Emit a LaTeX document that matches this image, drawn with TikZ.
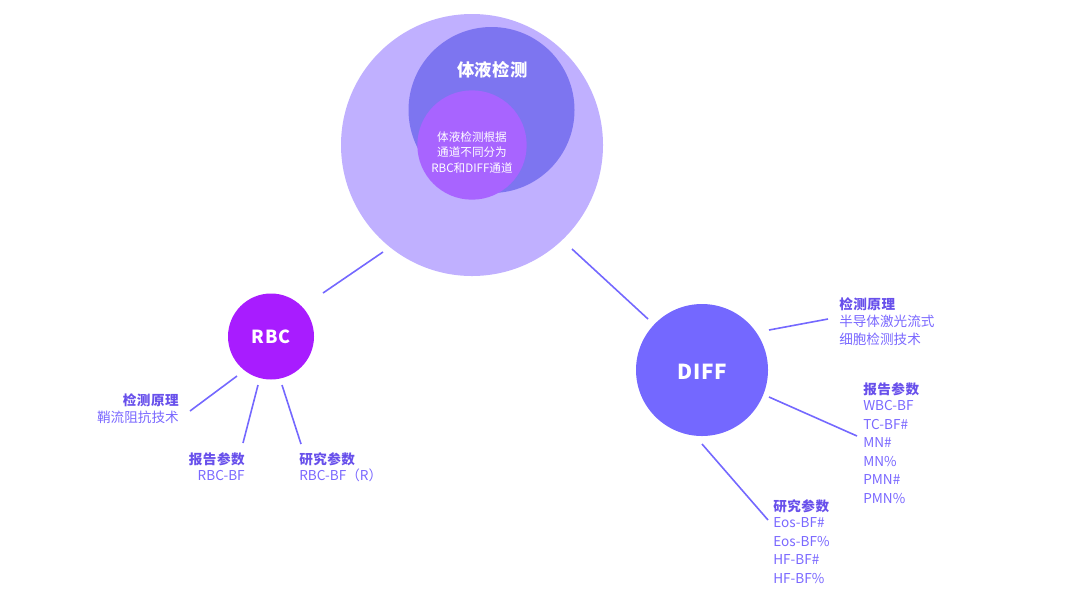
\documentclass[tikz,border=0pt]{standalone}
\usepackage{fontspec}
\setmainfont{Noto Sans CJK SC}
\usepackage{xcolor}
\definecolor{bigViolet}{RGB}{192, 176, 255}
\definecolor{midBlue}{RGB}{125, 117, 240}
\definecolor{coreViolet}{RGB}{168, 100, 255}
\definecolor{rbcViolet}{RGB}{168, 28, 255}
\definecolor{diffBlue}{RGB}{116, 104, 255}
\definecolor{headColor}{RGB}{104, 80, 235}
\definecolor{bodyColor}{RGB}{122, 104, 255}
\tikzset{
    disc/.style={circle, inner sep=0pt, outer sep=0pt},
    link/.style={draw=diffBlue, line width=1.2pt},
    infotext/.style={text=bodyColor, inner sep=0pt, font=\fontsize{10.2}{13.9}\selectfont}
}
\newcommand{\headline}[1]{{\color{headColor}\bfseries\addfontfeature{LetterSpace=3.5}#1}\\[-1.5pt]}
\begin{document}
\begin{tikzpicture}[x=0.75pt, y=-0.75pt]
    \useasboundingbox (0,0) rectangle (1080,608);

    % Draw the three stacked circles on top
    \node[disc, fill=bigViolet, minimum size=196.5pt] (big) at (472,145) {};
    \node[disc, fill=midBlue, minimum size=124.5pt] (mid) at (491.5,110) {};
    \node[disc, fill=coreViolet, minimum size=82pt] (core) at (472,145) {};
    \node[text=white, inner sep=0pt, font=\fontsize{13}{16}\selectfont\bfseries\addfontfeature{LetterSpace=2.5}] (title) at (492.5,69.5) {体液检测};
    \node[text=white, inner sep=0pt, align=center, font=\fontsize{8.7}{11.8}\selectfont] (coretext) at (472,152.5) {体液检测根据\\通道不同分为\\RBC和DIFF通道};

    % Draw the two channel circles
    \node[disc, fill=rbcViolet, minimum size=64.5pt, text=white, font=\fontsize{13.5}{16}\selectfont\bfseries\addfontfeature{LetterSpace=6}] (rbc) at (271,336.5) {RBC};
    \node[disc, fill=diffBlue, minimum size=99pt, text=white, text height=14.5pt, text depth=0pt, font=\fontsize{15.5}{18}\selectfont\bfseries\addfontfeature{LetterSpace=4}] (diff) at (702,370) {DIFF};

    % Free ends of the connectors
    \coordinate (bigA) at (383,252);
    \coordinate (bigB) at (572,249);
    \coordinate (rbcTop) at (323,293);
    \coordinate (diffTop) at (648,319);
    \coordinate (rbcA) at (237,376);
    \coordinate (rbcB) at (258,385);
    \coordinate (rbcC) at (282,385);
    \coordinate (rbcAend) at (190,411);
    \coordinate (rbcBend) at (243,443);
    \coordinate (rbcCend) at (301,444);
    \coordinate (diffA) at (769,330);
    \coordinate (diffB) at (769,397);
    \coordinate (diffC) at (702,444);
    \coordinate (diffAend) at (828,319);
    \coordinate (diffBend) at (857,436);
    \coordinate (diffCend) at (768,520);

    % Connectors
    \draw[link] (bigA) -- (rbcTop);
    \draw[link] (bigB) -- (diffTop);
    \draw[link] (rbcA) -- (rbcAend);
    \draw[link] (rbcB) -- (rbcBend);
    \draw[link] (rbcC) -- (rbcCend);
    \draw[link] (diffA) -- (diffAend);
    \draw[link] (diffB) -- (diffBend);
    \draw[link] (diffC) -- (diffCend);

    % Labels of RBC
    \node[infotext, anchor=north east, align=right] (rbcAtext) at (179,393.5) {\headline{检测原理}鞘流阻抗技术};
    \node[infotext, anchor=north east, align=right] (rbcBtext) at (245,452) {\headline{报告参数}RBC-BF};
    \node[infotext, anchor=north west, align=left] (rbcCtext) at (299,452) {\headline{研究参数}RBC-BF（R）};

    % Labels of DIFF
    \node[infotext, anchor=north west, align=left] (diffAtext) at (839,297.5) {\headline{检测原理}半导体激光流式\\细胞检测技术};
    \node[infotext, anchor=north west, align=left] (diffBtext) at (863,382) {\headline{报告参数}WBC-BF\\TC-BF\#\\MN\#\\MN\%\\PMN\#\\PMN\%};
    \node[infotext, anchor=north west, align=left] (diffCtext) at (773,499) {\headline{研究参数}Eos-BF\#\\Eos-BF\%\\HF-BF\#\\HF-BF\%};
\end{tikzpicture}
\end{document}
